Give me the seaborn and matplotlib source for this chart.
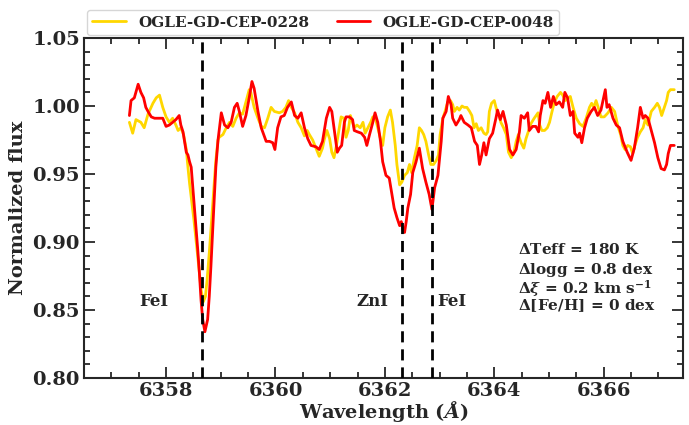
import numpy as np
import pandas as pd
import matplotlib
matplotlib.use("Agg")
import matplotlib.pyplot as plt
from matplotlib.ticker import MultipleLocator
import seaborn as sns

# ---- data ----
wl_0048 = [6357.33, 6357.36, 6357.42, 6357.49, 6357.54, 6357.59, 6357.63, 6357.67, 6357.73, 6357.79,
           6357.85, 6357.94, 6358.00, 6358.06, 6358.12, 6358.18, 6358.24, 6358.27, 6358.31, 6358.33,
           6358.37, 6358.40, 6358.43, 6358.46, 6358.49, 6358.52, 6358.55, 6358.58, 6358.61, 6358.64,
           6358.67, 6358.71, 6358.76, 6358.79, 6358.82, 6358.85, 6358.88, 6358.91, 6358.95, 6359.01,
           6359.07, 6359.13, 6359.19, 6359.25, 6359.30, 6359.34, 6359.40, 6359.46, 6359.52, 6359.57,
           6359.61, 6359.68, 6359.74, 6359.83, 6359.89, 6359.95, 6359.99, 6360.04, 6360.10, 6360.16,
           6360.22, 6360.29, 6360.35, 6360.41, 6360.47, 6360.53, 6360.59, 6360.65, 6360.74, 6360.80,
           6360.86, 6360.93, 6360.99, 6361.03, 6361.08, 6361.13, 6361.17, 6361.21, 6361.26, 6361.29,
           6361.35, 6361.41, 6361.44, 6361.50, 6361.57, 6361.63, 6361.67, 6361.72, 6361.78, 6361.82,
           6361.87, 6361.92, 6361.96, 6362.02, 6362.08, 6362.13, 6362.17, 6362.22, 6362.27, 6362.30,
           6362.33, 6362.36, 6362.39, 6362.42, 6362.47, 6362.51, 6362.57, 6362.63, 6362.69, 6362.75,
           6362.81, 6362.86, 6362.91, 6362.97, 6363.03, 6363.06, 6363.12, 6363.16, 6363.21, 6363.24,
           6363.30, 6363.36, 6363.39, 6363.45, 6363.52, 6363.58, 6363.64, 6363.69, 6363.73, 6363.77,
           6363.81, 6363.85, 6363.91, 6363.97, 6364.03, 6364.06, 6364.11, 6364.16, 6364.22, 6364.28,
           6364.34, 6364.40, 6364.46, 6364.49, 6364.55, 6364.61, 6364.64, 6364.70, 6364.76, 6364.81,
           6364.84, 6364.89, 6364.93, 6364.98, 6365.03, 6365.08, 6365.13, 6365.19, 6365.25, 6365.29,
           6365.34, 6365.39, 6365.44, 6365.47, 6365.53, 6365.56, 6365.60, 6365.65, 6365.70, 6365.77,
           6365.83, 6365.89, 6365.95, 6366.03, 6366.06, 6366.10, 6366.17, 6366.23, 6366.29, 6366.35,
           6366.43, 6366.50, 6366.56, 6366.62, 6366.67, 6366.72, 6366.76, 6366.81, 6366.87, 6366.93,
           6366.99, 6367.05, 6367.11, 6367.15, 6367.18, 6367.22, 6367.29]
flux_0048 = [0.993, 1.004, 1.006, 1.016, 1.010, 1.006, 0.999, 0.996, 0.992, 0.991,
             0.991, 0.991, 0.985, 0.986, 0.988, 0.990, 0.993, 0.986, 0.981, 0.976,
             0.966, 0.964, 0.959, 0.955, 0.940, 0.926, 0.911, 0.894, 0.877, 0.857,
             0.843, 0.834, 0.843, 0.860, 0.882, 0.907, 0.931, 0.955, 0.975, 0.995,
             0.986, 0.984, 0.988, 0.999, 1.002, 0.996, 0.985, 0.993, 1.006, 1.018,
             1.013, 0.996, 0.984, 0.974, 0.974, 0.973, 0.968, 0.984, 0.992, 0.993,
             0.999, 1.003, 0.993, 0.991, 0.995, 0.984, 0.976, 0.971, 0.970, 0.968,
             0.974, 0.991, 0.999, 0.996, 0.981, 0.966, 0.969, 0.971, 0.988, 0.992,
             0.992, 0.990, 0.982, 0.981, 0.980, 0.977, 0.971, 0.979, 0.988, 0.995,
             0.988, 0.974, 0.959, 0.949, 0.947, 0.935, 0.925, 0.918, 0.912, 0.915,
             0.909, 0.907, 0.915, 0.925, 0.935, 0.951, 0.959, 0.969, 0.954, 0.944,
             0.935, 0.924, 0.940, 0.949, 0.974, 0.991, 0.996, 1.007, 1.001, 0.991,
             0.986, 0.990, 0.993, 0.988, 0.986, 0.984, 0.974, 0.971, 0.957, 0.964,
             0.973, 0.964, 0.976, 0.980, 0.991, 0.997, 0.990, 0.996, 0.986, 0.968,
             0.964, 0.968, 0.981, 0.993, 0.991, 0.995, 0.982, 0.985, 0.985, 0.981,
             0.993, 1.004, 1.002, 1.010, 0.999, 1.007, 1.001, 1.003, 0.999, 1.010,
             1.006, 0.993, 0.996, 0.980, 0.977, 0.980, 0.973, 0.984, 0.991, 0.996,
             0.999, 0.993, 0.997, 1.012, 0.999, 1.001, 0.991, 0.986, 0.984, 0.974,
             0.966, 0.960, 0.969, 0.984, 0.999, 0.991, 0.993, 0.991, 0.982, 0.973,
             0.962, 0.954, 0.953, 0.957, 0.965, 0.971, 0.971]

wl_0228 = [6357.33, 6357.39, 6357.45, 6357.54, 6357.60, 6357.67, 6357.76, 6357.82, 6357.88, 6357.94,
           6358.00, 6358.06, 6358.12, 6358.18, 6358.22, 6358.27, 6358.32, 6358.37, 6358.40, 6358.43,
           6358.46, 6358.51, 6358.55, 6358.58, 6358.61, 6358.64, 6358.68, 6358.72, 6358.75, 6358.79,
           6358.82, 6358.85, 6358.88, 6358.91, 6358.95, 6358.97, 6359.04, 6359.10, 6359.16, 6359.22,
           6359.28, 6359.34, 6359.40, 6359.46, 6359.52, 6359.55, 6359.61, 6359.68, 6359.74, 6359.80,
           6359.86, 6359.92, 6359.98, 6360.07, 6360.13, 6360.19, 6360.24, 6360.29, 6360.35, 6360.41,
           6360.47, 6360.53, 6360.58, 6360.62, 6360.68, 6360.74, 6360.80, 6360.86, 6360.89, 6360.94,
           6360.99, 6361.03, 6361.07, 6361.11, 6361.15, 6361.20, 6361.25, 6361.29, 6361.33, 6361.37,
           6361.41, 6361.44, 6361.49, 6361.55, 6361.60, 6361.64, 6361.69, 6361.74, 6361.78, 6361.82,
           6361.87, 6361.92, 6361.96, 6362.00, 6362.05, 6362.10, 6362.14, 6362.19, 6362.22, 6362.27,
           6362.31, 6362.36, 6362.41, 6362.45, 6362.49, 6362.54, 6362.59, 6362.63, 6362.67, 6362.71,
           6362.75, 6362.80, 6362.84, 6362.89, 6362.94, 6362.98, 6363.01, 6363.06, 6363.10, 6363.15,
           6363.20, 6363.24, 6363.27, 6363.32, 6363.36, 6363.41, 6363.45, 6363.50, 6363.55, 6363.59,
           6363.63, 6363.67, 6363.71, 6363.76, 6363.81, 6363.85, 6363.88, 6363.91, 6363.95, 6364.00,
           6364.05, 6364.09, 6364.12, 6364.17, 6364.22, 6364.26, 6364.31, 6364.36, 6364.40, 6364.44,
           6364.49, 6364.54, 6364.58, 6364.62, 6364.67, 6364.73, 6364.80, 6364.83, 6364.87, 6364.92,
           6364.97, 6365.01, 6365.05, 6365.10, 6365.15, 6365.21, 6365.25, 6365.30, 6365.34, 6365.39,
           6365.44, 6365.50, 6365.56, 6365.62, 6365.68, 6365.74, 6365.78, 6365.82, 6365.86, 6365.90,
           6365.95, 6366.01, 6366.08, 6366.14, 6366.20, 6366.26, 6366.31, 6366.35, 6366.39, 6366.44,
           6366.49, 6366.53, 6366.57, 6366.62, 6366.67, 6366.72, 6366.76, 6366.81, 6366.87, 6366.93,
           6366.98, 6367.02, 6367.06, 6367.11, 6367.15, 6367.18, 6367.22, 6367.29]
flux_0228 = [0.988, 0.980, 0.990, 0.988, 0.984, 0.994, 1.002, 1.006, 1.008, 0.999,
             0.992, 0.988, 0.991, 0.986, 0.982, 0.984, 0.979, 0.968, 0.955, 0.943,
             0.933, 0.916, 0.901, 0.889, 0.877, 0.865, 0.856, 0.860, 0.872, 0.892,
             0.909, 0.926, 0.943, 0.960, 0.975, 0.977, 0.979, 0.984, 0.988, 0.985,
             0.991, 0.995, 0.994, 1.003, 1.012, 1.010, 0.999, 0.991, 0.985, 0.984,
             0.991, 0.999, 0.996, 0.995, 0.996, 0.999, 1.004, 0.999, 0.995, 0.988,
             0.984, 0.978, 0.982, 0.979, 0.975, 0.969, 0.963, 0.969, 0.975, 0.982,
             0.976, 0.966, 0.962, 0.970, 0.980, 0.992, 0.991, 0.977, 0.982, 0.993,
             0.988, 0.984, 0.986, 0.984, 0.988, 0.980, 0.984, 0.988, 0.992, 0.992,
             0.984, 0.976, 0.971, 0.984, 0.992, 0.997, 0.988, 0.971, 0.957, 0.942,
             0.944, 0.949, 0.951, 0.957, 0.951, 0.962, 0.971, 0.984, 0.982, 0.979,
             0.974, 0.964, 0.957, 0.957, 0.960, 0.964, 0.979, 0.991, 0.996, 1.003,
             1.004, 1.001, 0.996, 0.999, 0.997, 1.000, 0.999, 0.999, 0.996, 0.993,
             0.984, 0.987, 0.982, 0.984, 0.980, 0.979, 0.981, 0.996, 1.002, 1.004,
             0.996, 0.993, 0.988, 0.984, 0.979, 0.966, 0.962, 0.966, 0.974, 0.979,
             0.973, 0.969, 0.976, 0.981, 0.987, 0.991, 0.995, 0.986, 0.982, 0.982,
             0.984, 0.988, 0.995, 1.003, 1.007, 1.010, 1.008, 1.004, 1.006, 1.007,
             0.999, 0.991, 0.987, 0.985, 0.991, 0.999, 1.002, 0.999, 1.004, 0.999,
             0.992, 0.992, 0.995, 0.999, 0.996, 0.985, 0.979, 0.971, 0.968, 0.971,
             0.970, 0.965, 0.971, 0.977, 0.981, 0.984, 0.990, 0.986, 0.996, 0.999,
             1.002, 0.999, 0.993, 0.999, 1.004, 1.010, 1.012, 1.012]

star_names = ["OGLE-GD-CEP-0228", "OGLE-GD-CEP-0048"]
star_colors = ["#FFD700", "#FF0000"]
line_positions = [6358.65, 6362.32, 6362.86]
line_labels = ["FeI", "ZnI", "FeI"]
label_x = [6357.78, 6361.78, 6363.22]
label_y = 0.856
param_lines = [r"$\mathbf{\Delta}$Teff = 180 K",
               r"$\mathbf{\Delta}$logg = 0.8 dex",
               r"$\mathbf{\Delta}\boldsymbol{\xi}$ = 0.2 km $\boldsymbol{s^{-1}}$",
               r"$\mathbf{\Delta}$[Fe/H] = 0 dex"]
param_y = [0.8956, 0.8816, 0.8680, 0.8545]
xticks = [6358, 6360, 6362, 6364, 6366]

df = pd.concat([
    pd.DataFrame({"wl": wl_0228, "flux": flux_0228, "star": star_names[0]}),
    pd.DataFrame({"wl": wl_0048, "flux": flux_0048, "star": star_names[1]}),
])

sns.set_style("ticks")
plt.rcParams["font.family"] = ["DejaVu Serif"]
plt.rcParams["font.weight"] = "bold"
plt.rcParams["mathtext.fontset"] = "dejavuserif"
plt.rcParams["mathtext.default"] = "bf"

fig = plt.figure(figsize=(6.89, 4.25), dpi=100)
ax = fig.add_axes([84/689, 1 - 378/425, (683 - 84)/689, (378 - 38)/425])

sns.lineplot(data=df, x="wl", y="flux", hue="star", hue_order=star_names,
             palette=star_colors, linewidth=2, ax=ax, sort=False, estimator=None)

for xv in line_positions:
    ax.axvline(xv, color="black", linestyle=(0, (4, 2.5)), linewidth=2, zorder=5)
for lx, lab in zip(label_x, line_labels):
    ax.text(lx, label_y, lab, ha="center", va="center", fontsize=12, fontweight="bold")

for py, txt in zip(param_y, param_lines):
    ax.text(6364.43, py, txt, ha="left", va="center_baseline", fontsize=11, fontweight="bold")

ax.set_xlim(6356.5, 6367.45)
ax.set_ylim(0.80, 1.05)
ax.set_xticks(xticks)
ax.xaxis.set_minor_locator(MultipleLocator(0.5))
ax.yaxis.set_major_locator(MultipleLocator(0.05))
ax.yaxis.set_minor_locator(MultipleLocator(0.01))
ax.yaxis.set_major_formatter(matplotlib.ticker.FormatStrFormatter("%.2f"))
ax.tick_params(which="both", direction="in", top=True, right=True, width=1.3)
ax.tick_params(which="major", length=8, labelsize=14, pad=3)
ax.tick_params(which="minor", length=4)
for lab in ax.get_xticklabels() + ax.get_yticklabels():
    lab.set_fontweight("bold")
for sp in ax.spines.values():
    sp.set_linewidth(1.5)

ax.set_xlabel(r"Wavelength ($\mathbfit{\AA}$)", fontsize=14, fontweight="bold", labelpad=-1)
ax.set_ylabel("Normalized flux", fontsize=14, fontweight="bold", labelpad=4)

leg = ax.legend(loc="lower left", bbox_to_anchor=(0.0, 1.0), ncol=2, frameon=True,
                borderaxespad=0.2, prop={"weight": "bold", "size": 11},
                handlelength=2.2, columnspacing=1.8, borderpad=0.35)
for h in leg.get_lines():
    h.set_linewidth(2)

fig.savefig("out.png", dpi=100)
